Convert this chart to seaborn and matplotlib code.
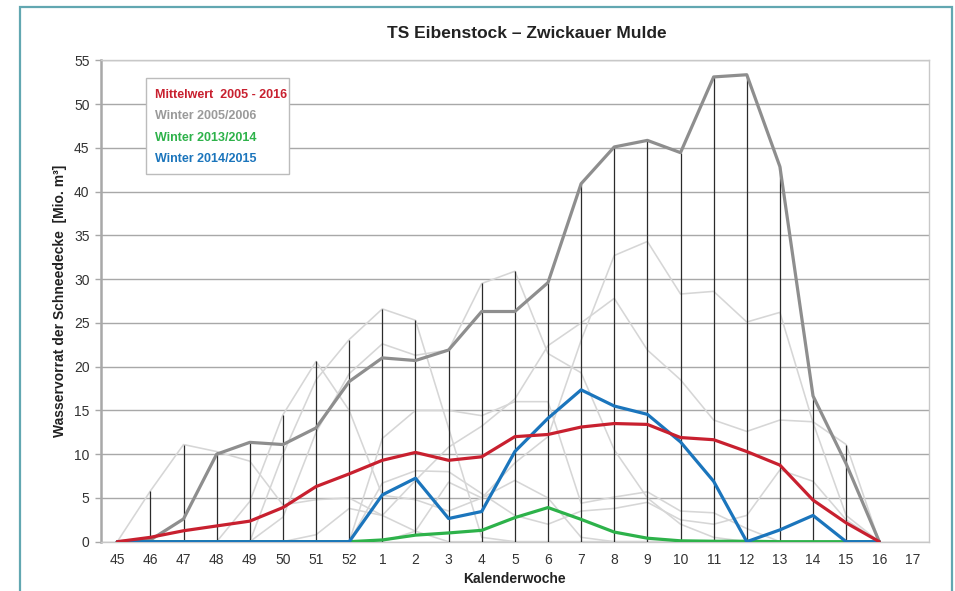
import numpy as np
import pandas as pd
import matplotlib
matplotlib.use("Agg")
import matplotlib.pyplot as plt
import seaborn as sns
from matplotlib.patches import Rectangle

# ---------------- data ----------------
weeks = ["45", "46", "47", "48", "49", "50", "51", "52", "1", "2", "3", "4", "5",
         "6", "7", "8", "9", "10", "11", "12", "13", "14", "15", "16", "17"]

mean_2005_2016 = [0, 0.5, 1.25, 1.8, 2.35, 3.9, 6.3, 7.75, 9.3, 10.2, 9.3, 9.7, 12.0,
                  12.25, 13.1, 13.5, 13.4, 11.9, 11.65, 10.3, 8.75, 4.75, 2.15, 0]
winter_2005_06 = [0, 0.2, 2.6, 10.0, 11.35, 11.1, 13.0, 18.3, 21.0, 20.7, 21.9, 26.3, 26.3,
                  29.6, 40.9, 45.1, 45.85, 44.45, 53.1, 53.35, 42.85, 16.65, 8.9, 0]
winter_2013_14 = [0, 0, 0, 0, 0, 0, 0, 0, 0.2, 0.75, 1.0, 1.3, 2.75,
                  3.9, 2.55, 1.1, 0.4, 0.1, 0.05, 0.05, 0, 0, 0, 0]
winter_2014_15 = [0, 0, 0, 0, 0, 0, 0, 0, 5.35, 7.25, 2.65, 3.45, 10.3,
                  14.1, 17.35, 15.5, 14.55, 11.4, 6.9, 0, 1.35, 3.0, 0, 0]

# remaining winters (light grey lines)
winter_2006_07 = [0, 5.8, 11.1, 10.3, 9.2, 4.2, 4.8, 5.0, 3.0, 1.2, 0, 0, 0,
                  0, 0, 0, 0, 0, 0, 0, 0, 0, 0, 0]
winter_2007_08 = [0, 0, 0, 0, 4.6, 14.5, 20.6, 15.0, 5.3, 4.8, 3.5, 5.0, 7.0,
                  5.0, 0.5, 0, 0, 0, 0, 0, 0, 0, 0, 0]
winter_2008_09 = [0, 0, 0, 0, 0, 10.0, 18.5, 23.1, 26.6, 25.3, 13.0, 0.5, 0,
                  0, 0, 0, 0, 0, 0, 0, 0, 0, 0, 0]
winter_2009_10 = [0, 0, 0, 0, 0, 2.8, 12.5, 19.2, 22.6, 21.3, 21.9, 29.5, 30.9,
                  21.5, 19.3, 10.5, 5.0, 2.0, 0.5, 0, 0, 0, 0, 0]
winter_2010_11 = [0, 0, 0, 0, 0, 0, 0.8, 3.8, 3.0, 7.0, 10.8, 13.2, 16.3,
                  22.4, 25.0, 27.8, 21.9, 18.5, 13.9, 12.6, 13.9, 13.7, 11.1, 0]
winter_2011_12 = [0, 0, 0, 0, 0, 0, 0, 0, 11.8, 15.0, 15.0, 14.4, 16.0,
                  16.0, 4.4, 5.1, 5.7, 3.5, 3.3, 1.5, 0, 0, 0, 0]
winter_2012_13 = [0, 0, 0, 0, 0, 0, 0, 0, 0, 1.2, 6.8, 5.0, 9.0,
                  12.0, 23.0, 32.7, 34.3, 28.3, 28.6, 25.1, 26.2, 13.6, 3.0, 0]
winter_2015_16 = [0, 0, 0, 0, 0, 0, 0, 0, 6.7, 8.1, 8.0, 5.5, 3.0,
                  2.0, 3.5, 3.8, 4.5, 2.5, 2.0, 3.0, 8.2, 6.9, 2.5, 0]

legend_labels = ["Mittelwert  2005 - 2016", "Winter 2005/2006",
                 "Winter 2013/2014", "Winter 2014/2015"]
y_ticks = [0, 5, 10, 15, 20, 25, 30, 35, 40, 45, 50, 55]

# ---------------- styling ----------------
sns.set_theme(style="white")
plt.rcParams["font.family"] = ["Liberation Sans", "DejaVu Sans"]

C_RED = "#c8202f"
C_GRAY = "#8e8e8e"
C_GREEN = "#2db24a"
C_BLUE = "#1b75bc"
C_LIGHT = "#d6d6d6"
C_LEG_GRAY = "#9a9a9a"

W, H = 955, 591
fig = plt.figure(figsize=(W / 100, H / 100), dpi=100)
ax = fig.add_axes([100.7 / W, 1 - 541.7 / H, (929 - 100.7) / W, (541.7 - 60.3) / H])

n = len(mean_2005_2016)
pos = np.arange(n)

light = {
    "2006/07": winter_2006_07, "2007/08": winter_2007_08, "2008/09": winter_2008_09,
    "2009/10": winter_2009_10, "2010/11": winter_2010_11, "2011/12": winter_2011_12,
    "2012/13": winter_2012_13, "2015/16": winter_2015_16,
}
df_light = pd.concat(
    [pd.DataFrame({"pos": pos, "value": v, "winter": k}) for k, v in light.items()],
    ignore_index=True)

sns.lineplot(data=df_light, x="pos", y="value", units="winter", estimator=None,
             color=C_LIGHT, linewidth=1.15, ax=ax, legend=False, zorder=2)

# high-low lines (min to max of all series per week)
all_series = np.array(list(light.values()) + [mean_2005_2016, winter_2005_06,
                                               winter_2013_14, winter_2014_15])
hi = all_series.max(axis=0)
lo = all_series.min(axis=0)
mask = hi > lo
ax.vlines(pos[mask], lo[mask], hi[mask], color="#2b2b2b", linewidth=0.9, zorder=3)

sns.lineplot(x=pos, y=winter_2005_06, color=C_GRAY, linewidth=2.3, ax=ax, zorder=4)
sns.lineplot(x=pos, y=winter_2013_14, color=C_GREEN, linewidth=2.3, ax=ax, zorder=5)
sns.lineplot(x=pos, y=winter_2014_15, color=C_BLUE, linewidth=2.3, ax=ax, zorder=6)
sns.lineplot(x=pos, y=mean_2005_2016, color=C_RED, linewidth=2.3, ax=ax, zorder=7)

ax.set_xlim(-0.5, len(weeks) - 0.5)
ax.set_ylim(0, 55)
ax.set_xticks(np.arange(len(weeks)))
ax.set_xticklabels(weeks)
ax.set_yticks(y_ticks)
ax.set_yticklabels([str(t) for t in y_ticks])
ax.yaxis.grid(True, color="#a8a8a8", linewidth=1.0)
ax.xaxis.grid(False)
ax.set_axisbelow(True)

for side in ["top", "right", "bottom"]:
    ax.spines[side].set_color("#c8c8c8")
    ax.spines[side].set_linewidth(1.0)
ax.spines["left"].set_color("#a8a8a8")
ax.spines["left"].set_linewidth(1.8)

ax.tick_params(axis="y", length=4, width=1, color="#a8a8a8", pad=4,
               labelsize=10, labelcolor="#333333", left=True)
ax.tick_params(axis="x", length=0, pad=8, labelsize=10, labelcolor="#333333")

ax.set_xlabel("Kalenderwoche", fontsize=10, fontweight="bold", color="#222222", labelpad=4)
ax.set_ylabel("Wasservorrat der Schneedecke  [Mio. m³]", fontsize=10,
              fontweight="bold", color="#222222", labelpad=5)

fig.text(527 / W, 1 - 33 / H, "TS Eibenstock – Zwickauer Mulde", ha="center",
         va="center", fontsize=12.5, fontweight="bold", color="#222222")

# legend box (manual, text coloured like the series)
fig.patches.append(Rectangle((146 / W, 1 - 174 / H), (289 - 146) / W, (174 - 78) / H,
                             transform=fig.transFigure, facecolor="white",
                             edgecolor="#bcbcbc", linewidth=1.0, zorder=10))
leg_colors = [C_RED, C_LEG_GRAY, C_GREEN, C_BLUE]
for i, (lab, col) in enumerate(zip(legend_labels, leg_colors)):
    fig.text(155 / W, 1 - (95 + i * 21.5) / H, lab, ha="left", va="center",
             fontsize=9, fontweight="bold", color=col, zorder=11)

# outer teal frame
fig.patches.append(Rectangle((20 / W, -0.05), (952 - 20) / W, 1 - 7 / H + 0.05,
                             transform=fig.transFigure, facecolor="none",
                             edgecolor="#62a7b1", linewidth=1.6, zorder=12))

fig.savefig("out.png", dpi=100)
